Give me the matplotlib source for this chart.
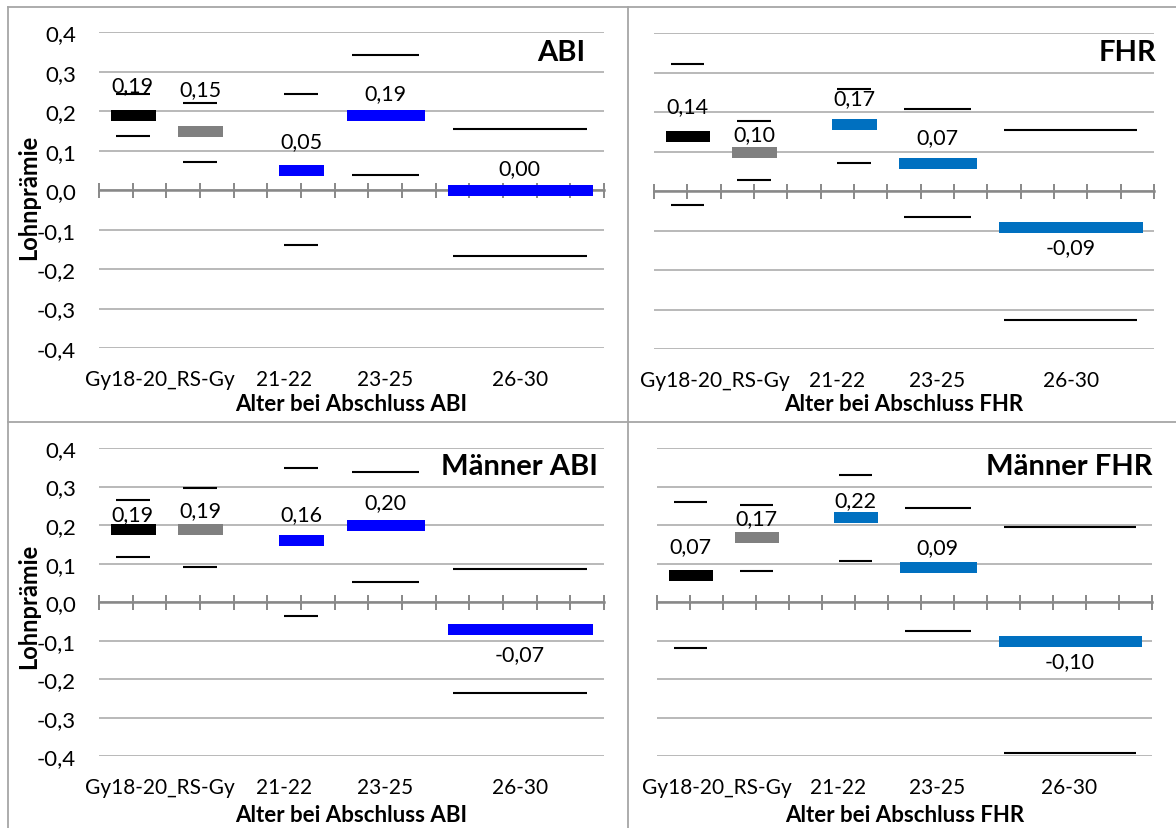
import matplotlib
matplotlib.use("Agg")
import matplotlib.pyplot as plt
from matplotlib.lines import Line2D
import numpy as np

plt.rcParams["font.family"] = ["Lato", "DejaVu Sans"]

# Kategorien der x-Achse
categories = ["Gy18-20", "RS-Gy", "21-22", "23-25", "26-30"]

# Punktschätzer und Konfidenzgrenzen je Teilgrafik
abi_est = [0.19, 0.15, 0.05, 0.19, 0.00]
abi_hi = [0.243, 0.222, 0.243, 0.343, 0.155]
abi_lo = [0.137, 0.072, -0.138, 0.038, -0.166]

fhr_est = [0.14, 0.10, 0.17, 0.07, -0.09]
fhr_hi = [0.322, 0.176, 0.259, 0.207, 0.154]
fhr_lo = [-0.035, 0.027, 0.072, -0.066, -0.326]

m_abi_est = [0.19, 0.19, 0.16, 0.20, -0.07]
m_abi_hi = [0.265, 0.296, 0.349, 0.339, 0.086]
m_abi_lo = [0.118, 0.091, -0.035, 0.053, -0.236]

m_fhr_est = [0.07, 0.17, 0.22, 0.09, -0.10]
m_fhr_hi = [0.261, 0.253, 0.329, 0.245, 0.196]
m_fhr_lo = [-0.120, 0.082, 0.106, -0.076, -0.392]

# Lage der Kategorien auf der Achse (15 Intervalle)
SPAN_LO = [0.5, 2.5, 5.5, 7.5, 10.5]
SPAN_HI = [1.5, 3.5, 6.5, 9.5, 14.5]
LABEL_X = [1.82, 5.5, 8.5, 12.5]
LABEL_TXT = ["Gy18-20_RS-Gy", "21-22", "23-25", "26-30"]

W, H = 1176, 829
DPI = 100
PX = 72 / DPI  # Pixel -> Punkt

GRID = "#a6a6a6"
AXIS = "#888888"


def frame(x0, x1, ytop, ybot):
    return [x0 / W, 1 - ybot / H, (x1 - x0) / W, (ybot - ytop) / H]


def komma(v, nd):
    s = f"{v:.{nd}f}"
    if float(s) == 0:
        s = s.lstrip("-")
    return s.replace(".", ",")


def draw_panel(ax, est, hi, lo, blue, offsets, show_y):
    colors = ["black", "#808080", blue, blue, blue]
    ax.set_xlim(0, 15)
    ax.set_ylim(-0.4, 0.4)
    yt = np.round(np.arange(-0.4, 0.41, 0.1), 1)
    ax.set_yticks(yt)
    ax.set_yticklabels([komma(v, 1) for v in yt])
    ax.yaxis.grid(True, color=GRID, lw=1.1)
    ax.set_axisbelow(True)
    for s in ("top", "right", "left"):
        ax.spines[s].set_visible(False)
    ax.spines["bottom"].set_position(("data", 0))
    ax.spines["bottom"].set_color(AXIS)
    ax.spines["bottom"].set_linewidth(1.8)
    ax.spines["bottom"].set_zorder(1.5)
    ax.set_xticks(range(16))
    ax.tick_params(axis="x", direction="inout", length=15 * PX, width=1.4,
                   color=AXIS, labelbottom=False)
    ax.tick_params(axis="y", length=0, pad=23 * PX, labelsize=16,
                   labelleft=show_y)

    for i in range(len(categories)):
        x0, x1 = SPAN_LO[i], SPAN_HI[i]
        ax.plot([x0, x1], [hi[i], hi[i]], color="black", lw=1.5,
                solid_capstyle="butt", zorder=3)
        ax.plot([x0, x1], [lo[i], lo[i]], color="black", lw=1.5,
                solid_capstyle="butt", zorder=3)
        ax.plot([x0, x1], [est[i], est[i]], color=colors[i], lw=11 * PX,
                solid_capstyle="projecting", zorder=4)
        ax.annotate(komma(est[i], 2),
                    xy=((x0 + x1) / 2, est[i]),
                    xytext=(0, offsets[i] * PX), textcoords="offset points",
                    ha="center", va="center", fontsize=15.5, zorder=5)

    for x, t in zip(LABEL_X, LABEL_TXT):
        ax.annotate(t, xy=(x, 0), xycoords=("data", "axes fraction"),
                    xytext=(0, -31 * PX), textcoords="offset points",
                    ha="center", va="center", fontsize=15)


fig = plt.figure(figsize=(W / DPI, H / DPI), dpi=DPI)

panels = [
    (frame(99, 604, 33.3, 349), abi_est, abi_hi, abi_lo, "#0000ff",
     [30, 42, 29, 22, 22], True, "ABI", (585, 53), "Alter bei Abschluss ABI", 405),
    (frame(654, 1154, 34, 350), fhr_est, fhr_hi, fhr_lo, "#0070c0",
     [30, 17, 26, 26, -21], False, "FHR", (1156, 53), "Alter bei Abschluss FHR", 405),
    (frame(99, 604, 449, 757.3), m_abi_est, m_abi_hi, m_abi_lo, "#0000ff",
     [15, 19, 26, 23, -25], True, "Männer ABI", (598, 467),
     "Alter bei Abschluss ABI", 816),
    (frame(657, 1152, 449, 757.3), m_fhr_est, m_fhr_hi, m_fhr_lo, "#0070c0",
     [29, 19, 17, 20, -20], False, "Männer FHR", (1152, 467),
     "Alter bei Abschluss FHR", 816),
]

for rect, est, hi, lo, blue, offs, show_y, title, tpos, xlab, xly in panels:
    ax = fig.add_axes(rect)
    draw_panel(ax, est, hi, lo, blue, offs, show_y)
    fig.text(tpos[0] / W, 1 - tpos[1] / H, title, ha="right", va="center",
             fontsize=21, fontweight="bold")
    cx = (rect[0] + rect[2] / 2)
    fig.text(cx, 1 - xly / H, xlab, ha="center", va="center",
             fontsize=16, fontweight="bold")
    if show_y:
        yc = 197 if rect[1] > 0.5 else 606
        fig.text(29 / W, 1 - yc / H, "Lohnprämie", rotation=90,
                 ha="center", va="center", fontsize=17, fontweight="bold")

# Rahmen der vier Diagramme
border = dict(color="#a6a6a6", lw=1.3, transform=fig.transFigure)
for xs, ys in [((8, W), (8, 8)), ((8, 8), (8, H)), ((628, 628), (8, H)),
               ((8, W), (423, 423))]:
    fig.add_artist(Line2D([x / W for x in xs], [1 - y / H for y in ys], **border))

fig.savefig("out.png", dpi=DPI)
